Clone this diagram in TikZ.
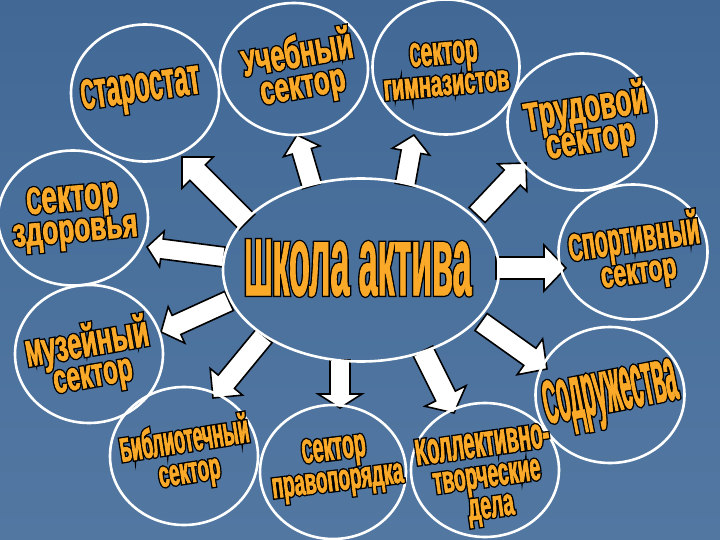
\documentclass[tikz,border=0pt]{standalone}
\usepackage{fontspec}
\setmainfont{Liberation Sans}
\usetikzlibrary{shapes.geometric,calc}
\definecolor{bgtop}{RGB}{66,104,150}
\definecolor{bgmid}{RGB}{78,116,162}
\definecolor{bgbot}{RGB}{82,120,162}
\definecolor{txt}{RGB}{250,170,40}
\setlength{\lineskiplimit}{-100pt}
\newlength\fitlen
% one piece of text, fitted to a width and a height (cap or x-height basis)
\newcommand\fitpart[4]{{\pgfmathsetmacro\fitsize{#2/#3}%
  \fontsize{\fitsize pt}{\fitsize pt}\selectfont
  \settowidth\fitlen{#4}%
  \pgfmathsetmacro\fitstretch{#1/\fitlen}%
  \edef\fittmp{\noexpand\addfontfeatures{FakeStretch=\fitstretch}}\fittmp
  #4}}
% black outline (wide stroke behind), orange slightly emboldened fill on top
\newcommand\outl[1]{\leavevmode
  \rlap{\special{pdf:literal direct 0 0 0 RG 1 Tr 3.4 w}#1\special{pdf:literal direct 0 Tr}}%
  \special{pdf:literal direct 0.980 0.667 0.157 RG 2 Tr 0.7 w}#1\special{pdf:literal direct 0 Tr}}
\newcommand\capline[6]{\outl{\fitpart{#1}{#2}{0.716}{#5}\fitpart{#3}{#4}{0.519}{#6}}}
\newcommand\lowline[3]{\outl{\fitpart{#1}{#2}{0.519}{#3}}}
% block arrow from tail to tip
\newcommand\barrow[5]{%
  \draw[blk] let \p1=(#1), \p2=(#2),
    \n1={atan2(\y2-\y1,\x2-\x1)}, \n2={veclen(\x2-\x1,\y2-\y1)} in
    [shift={(\p1)},rotate=\n1]
    (0,#3) -- ({\n2-#5},#3) -- ({\n2-#5},#4) -- (\n2,0) --
    ({\n2-#5},-#4) -- ({\n2-#5},-#3) -- (0,-#3) -- cycle;}
\begin{document}
\begin{tikzpicture}[x=1pt,y=-1pt,
  ring/.style={ellipse,draw=white,line width=2.6pt,inner sep=0pt},
  blk/.style={draw=black,fill=white,line width=1.6pt,line join=miter},
  lbl/.style={inner sep=0pt,align=center,text=txt,
    font=\fontsize{10}{31}\selectfont\bfseries}]
\useasboundingbox (0,0) rectangle (720,540);
\fill[top color=bgtop,middle color=bgmid,bottom color=bgbot] (0,0) rectangle (720,540);

% arrow end points
\coordinate (a1t) at (247,222); \coordinate (a1h) at (182,157);
\coordinate (a2t) at (312,186); \coordinate (a2h) at (297,135);
\coordinate (a3t) at (405,185); \coordinate (a3h) at (414,135);
\coordinate (a4t) at (477,215); \coordinate (a4h) at (526,163);
\coordinate (a5t) at (496,268); \coordinate (a5h) at (566,268);
\coordinate (a6t) at (481,322); \coordinate (a6h) at (547,369);
\coordinate (a7t) at (423,351); \coordinate (a7h) at (454,413);
\coordinate (a8t) at (340,360); \coordinate (a8h) at (340,408);
\coordinate (a9t) at (264,336); \coordinate (a9h) at (213,398);
\coordinate (a10t) at (229,301); \coordinate (a10h) at (161,332);
\coordinate (a11t) at (224,257); \coordinate (a11h) at (147,247);

\barrow{a1t}{a1h}{11}{22}{22}
\barrow{a2t}{a2h}{10}{19}{17}
\barrow{a3t}{a3h}{10}{19}{17}
\barrow{a4t}{a4h}{11}{20}{20}
\barrow{a5t}{a5h}{11}{23}{22}
\barrow{a6t}{a6h}{10.5}{22}{21}
\barrow{a7t}{a7h}{11}{23}{19}
\barrow{a8t}{a8h}{10}{22}{14}
\barrow{a9t}{a9h}{10.5}{21}{21}
\barrow{a10t}{a10h}{10.5}{20}{17}
\barrow{a11t}{a11h}{10}{18}{15}

% rings
\node[ring,minimum width=276pt,minimum height=183pt] (center) at (361,270) {};
\node[ring,minimum width=148pt,minimum height=137pt] (star) at (145,93) {};
\node[ring,minimum width=148pt,minimum height=132pt] (ucheb) at (294,69) {};
\node[ring,minimum width=147pt,minimum height=135pt] (gimn) at (446,67) {};
\node[ring,minimum width=149pt,minimum height=137pt] (trud) at (582,122) {};
\node[ring,minimum width=149pt,minimum height=135pt] (sport) at (633,252) {};
\node[ring,minimum width=149pt,minimum height=136pt] (sodr) at (610,395) {};
\node[ring,minimum width=148pt,minimum height=134pt] (koll) at (485,470) {};
\node[ring,minimum width=146pt,minimum height=134pt] (prav) at (333,472) {};
\node[ring,minimum width=148pt,minimum height=138pt] (bibl) at (184,456) {};
\node[ring,minimum width=148pt,minimum height=138pt] (muz) at (89,354) {};
\node[ring,minimum width=150pt,minimum height=135pt] (zdor) at (73,218) {};

% labels
\node[lbl] (tcenter) at (358,268) {\capline{28}{58}{199}{52}{Ш}{кола актива}};
\node[lbl,rotate=8] (tstar) at (141,92) {\capline{14}{30}{106}{27}{С}{таростат}};
\node[lbl,rotate=10] (tucheb) at (300,70) {\capline{14}{26}{98}{23}{У}{чебный}\\\lowline{86}{21}{сектор}};
\node[lbl,rotate=5] (tgimn) at (445,68) {\capline{11}{24}{57}{21}{С}{ектор}\\\lowline{126}{19}{гимназистов}};
\node[lbl,rotate=9] (ttrud) at (588,124) {\capline{15}{28}{109}{24}{Т}{рудовой}\\\lowline{90}{22}{сектор}};
\node[lbl,rotate=8] (tsport) at (636,254) {\capline{14}{27}{118}{24}{С}{портивный}\\\lowline{76}{19}{сектор}};
\node[lbl,rotate=11] (tsodr) at (611,398) {\capline{14}{44}{121}{40}{С}{одружества}};
\node[lbl,rotate=8] (tkoll) at (487,478) {\capline{12}{26}{123}{23}{К}{оллективно-}\\\lowline{108}{20}{творческие}\\\lowline{46}{20}{дела}};
\node[lbl,rotate=7] (tprav) at (336,467) {\capline{11}{24}{53}{21}{С}{ектор}\\\lowline{132}{19}{правопорядка}};
\node[lbl,rotate=9] (tbibl) at (187,456) {\capline{11}{24}{119}{21}{Б}{иблиотечный}\\\lowline{62}{19}{сектор}};
\node[lbl,rotate=10] (tmuz) at (90,359) {\capline{16}{26}{108}{23}{М}{узейный}\\\lowline{80}{21}{сектор}};
\node[lbl,rotate=5] (tzdor) at (74,217) {\capline{15}{27}{77}{24}{С}{ектор}\\\lowline{125}{21}{здоровья}};
\end{tikzpicture}
\end{document}
